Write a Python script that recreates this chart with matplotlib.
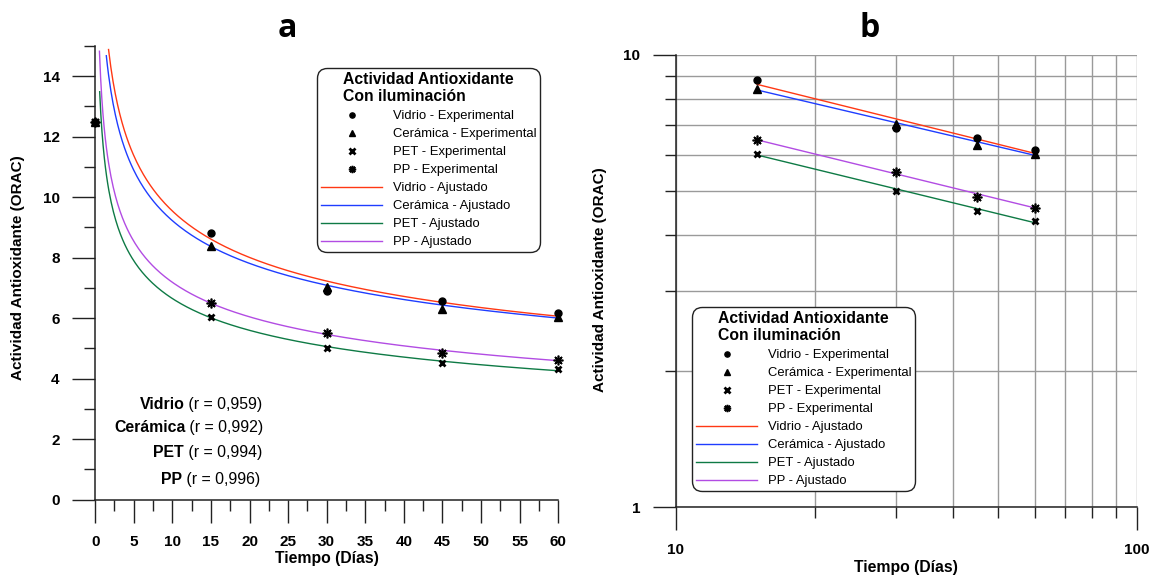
import numpy as np
import matplotlib
matplotlib.use("Agg")
import matplotlib.pyplot as plt
from matplotlib.ticker import FixedLocator, NullFormatter

plt.rcParams['font.family'] = ['Liberation Sans', 'DejaVu Sans']

# ---- data -------------------------------------------------------------
dias = [0, 15, 30, 45, 60]

vidrio_exp = [12.5, 8.81, 6.90, 6.57, 6.17]
ceramica_exp = [12.5, 8.39, 7.04, 6.31, 6.05]
pet_exp = [12.5, 6.04, 5.00, 4.52, 4.30]
pp_exp = [12.5, 6.49, 5.50, 4.86, 4.60]

series_names = ['Vidrio', 'Cerámica', 'PET', 'PP']
series_exp = [vidrio_exp, ceramica_exp, pet_exp, pp_exp]

# power-law fits  y = A * t^B
fit_a = [17.10, 16.02, 11.78, 12.77]
fit_b = [-0.2533, -0.2398, -0.2485, -0.2498]
fit_t0 = [1.73, 1.44, 0.58, 0.55]   # first day drawn for each fitted curve

r_values = ['0,959', '0,992', '0,994', '0,996']

# ---- styles -----------------------------------------------------------
fit_colors = ['#FF3814', '#1F3DFF', '#0E7A45', '#B24CE3']
markers = ['o', '^', 'x', (8, 2, 0)]
msizes = [5.0, 5.5, 5.0, 7.0]
mews = [1.0, 1.0, 2.0, 1.2]
axis_color = '#222222'

W, H = 1149, 575
fig = plt.figure(figsize=(W / 100, H / 100), dpi=100)


def px_axes(x0, x1, y_top, y_bot):
    return fig.add_axes([x0 / W, 1 - y_bot / H, (x1 - x0) / W, (y_bot - y_top) / H])


ax_a = px_axes(95.2, 558.1, 46.0, 499.5)
ax_b = px_axes(675.9, 1136.9, 55.0, 507.3)


def style_spines(ax):
    for s in ['top', 'right']:
        ax.spines[s].set_visible(False)
    for s in ['left', 'bottom']:
        ax.spines[s].set_color(axis_color)
        ax.spines[s].set_linewidth(1.1)


def style_ticks(ax, size):
    ax.tick_params(axis='x', which='major', length=16.5, width=1.0, color=axis_color,
                   pad=9.4, labelsize=size)
    ax.tick_params(axis='x', which='minor', length=8, width=1.0, color=axis_color)
    ax.tick_params(axis='y', which='major', length=16.5, width=1.0, color=axis_color,
                   pad=9.2, labelsize=size)
    ax.tick_params(axis='y', which='minor', length=8, width=1.0, color=axis_color)
    for lab in ax.get_xticklabels() + ax.get_yticklabels():
        lab.set_fontweight('bold')


def build_legend(ax, handles, labels, x_px, y_px):
    leg = ax.legend(handles, labels,
                    title='Actividad Antioxidante\nCon iluminación',
                    loc='upper left', bbox_to_anchor=(x_px / W, 1 - y_px / H),
                    bbox_transform=fig.transFigure, borderaxespad=0,
                    frameon=True, fancybox=True, framealpha=1,
                    edgecolor='#222222', fontsize=9.4,
                    title_fontproperties={'weight': 'bold', 'size': 11.3},
                    handlelength=4.7, handletextpad=0.8, labelspacing=0.45,
                    borderpad=0.3, markerscale=0.75)
    leg.get_frame().set_linewidth(1.0)
    leg.legendPatch.set_boxstyle('round', pad=0, rounding_size=0.8)
    leg.set_zorder(10)
    return leg


# ---- panel a: linear axes --------------------------------------------
ax = ax_a
exp_handles, fit_handles = [], []
for i, name in enumerate(series_names):
    t = np.linspace(fit_t0[i], 60, 400)
    ln, = ax.plot(t, fit_a[i] * t ** fit_b[i], color=fit_colors[i], lw=1.0, zorder=2)
    fit_handles.append(ln)
for i, name in enumerate(series_names):
    mk, = ax.plot(dias, series_exp[i], linestyle='none', marker=markers[i],
                  ms=msizes[i], mew=mews[i], color='black', zorder=3, clip_on=False)
    exp_handles.append(mk)

ax.set_xlim(0, 60)
ax.set_ylim(0, 15)
style_spines(ax)
ax.xaxis.set_major_locator(FixedLocator(np.arange(0, 61, 5)))
ax.xaxis.set_minor_locator(FixedLocator(np.arange(2.5, 60, 5)))
ax.yaxis.set_major_locator(FixedLocator(np.arange(0, 15, 2)))
ax.yaxis.set_minor_locator(FixedLocator(np.arange(1, 16, 2)))
style_ticks(ax, 11)
ax.set_xlabel('Tiempo (Días)', fontsize=11.3, fontweight='bold')
ax.set_ylabel('Actividad Antioxidante (ORAC)', fontsize=11, fontweight='bold')
ax.xaxis.set_label_coords(0.5, -0.1140)
ax.yaxis.set_label_coords(-0.1517, 0.5105)

labels = [f'{n} - Experimental' for n in series_names] + [f'{n} - Ajustado' for n in series_names]
build_legend(ax, exp_handles + fit_handles, labels, 317, 68)

# correlation coefficients
r_anchor_x = [11.55, 11.69, 11.45, 11.19]
r_baseline_y = [2.98, 2.24, 1.40, 0.52]
for i, name in enumerate(series_names):
    ax.text(r_anchor_x[i], r_baseline_y[i], name, ha='right', va='baseline',
            fontsize=11.4, fontweight='bold')
    ax.text(r_anchor_x[i], r_baseline_y[i], f' (r = {r_values[i]})', ha='left',
            va='baseline', fontsize=11.4)

# ---- panel b: log-log axes -------------------------------------------
ax = ax_b
ax.set_xscale('log')
ax.set_yscale('log')
exp_handles, fit_handles = [], []
for i, name in enumerate(series_names):
    t = np.linspace(15, 60, 200)
    ln, = ax.plot(t, fit_a[i] * t ** fit_b[i], color=fit_colors[i], lw=1.0, zorder=2)
    fit_handles.append(ln)
for i, name in enumerate(series_names):
    mk, = ax.plot(dias[1:], series_exp[i][1:], linestyle='none', marker=markers[i],
                  ms=msizes[i], mew=mews[i], color='black', zorder=3)
    exp_handles.append(mk)

ax.set_xlim(10, 100)
ax.set_ylim(1, 10)
style_spines(ax)
ax.xaxis.set_major_locator(FixedLocator([10, 100]))
ax.xaxis.set_minor_locator(FixedLocator(np.arange(20, 100, 10)))
ax.yaxis.set_major_locator(FixedLocator([1, 10]))
ax.yaxis.set_minor_locator(FixedLocator(np.arange(2, 10, 1)))
ax.set_xticklabels(['10', '100'])
ax.set_yticklabels(['1', '10'])
ax.xaxis.set_minor_formatter(NullFormatter())
ax.yaxis.set_minor_formatter(NullFormatter())
style_ticks(ax, 11)
ax.grid(True, which='both', color='#9a9a9a', lw=1.0, zorder=0)
ax.set_axisbelow(True)
ax.set_xlabel('Tiempo (Días)', fontsize=11.3, fontweight='bold')
ax.set_ylabel('Actividad Antioxidante (ORAC)', fontsize=11, fontweight='bold')
ax.xaxis.set_label_coords(0.5, -0.1165)
ax.yaxis.set_label_coords(-0.1495, 0.5026)

build_legend(ax, exp_handles + fit_handles, labels, 692, 307)

# ---- panel letters ----------------------------------------------------
fig.text(287 / W, 1 - 37.3 / H, 'a', ha='center', va='baseline', fontsize=23,
         fontweight='bold', family=['Open Sans', 'DejaVu Sans'])
fig.text(870 / W, 1 - 37.3 / H, 'b', ha='center', va='baseline', fontsize=23,
         fontweight='bold', family=['Open Sans', 'DejaVu Sans'])

fig.savefig('out.png', dpi=100)
